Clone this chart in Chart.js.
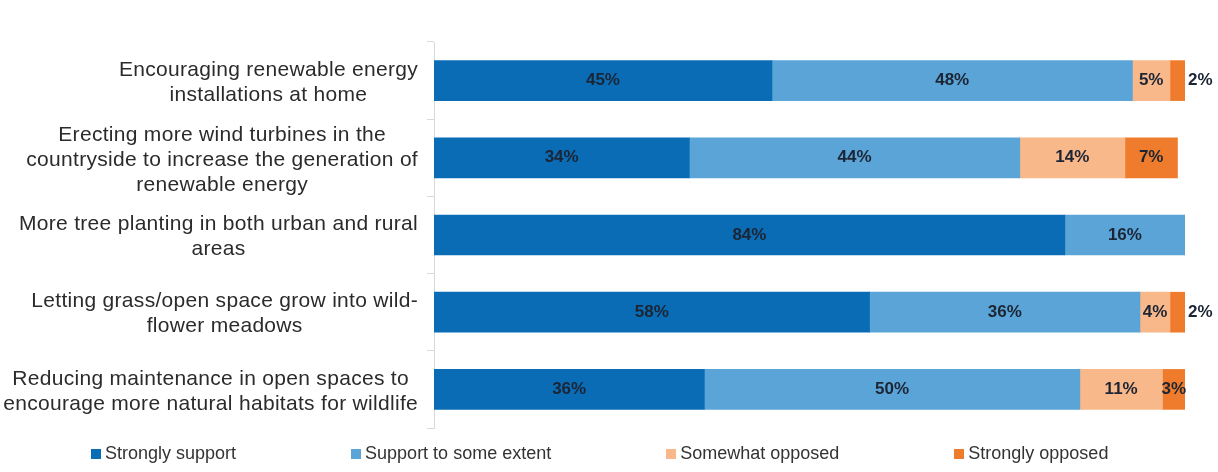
<!DOCTYPE html>
<html lang="en">
<head>
    <meta charset="UTF-8">
    <title>Support for nature and energy measures</title>
    <script src="https://cdn.jsdelivr.net/npm/chart.js"></script>
    <style>
        body {
            margin: 0;
            padding: 0;
            background: #fff;
            font-family: "Liberation Sans", Arial, sans-serif;
        }
        #wrap {
            position: relative;
            width: 1218px;
            height: 472px;
        }
        #legend {
            position: absolute;
            left: 91px;
            top: 443px;
            display: flex;
            align-items: center;
            font-size: 18px;
            color: #333;
            white-space: nowrap;
        }
        .item {
            display: flex;
            align-items: center;
            flex-shrink: 0;
            margin-right: 115px;
        }
        .box {
            width: 10px;
            height: 10px;
            margin-right: 4px;
        }
    </style>
</head>
<body>
    <div id="wrap">
        <canvas id="chart" width="1218" height="472"></canvas>
        <div id="legend"></div>
    </div>

    <script>
        const categories = [
            ['Encouraging renewable energy', 'installations at home'],
            ['Erecting more wind turbines in the', 'countryside to increase the generation of', 'renewable energy'],
            ['More tree planting in both urban and rural', 'areas'],
            ['Letting grass/open space grow into wild-', 'flower meadows'],
            ['Reducing maintenance in open spaces to', 'encourage more natural habitats for wildlife']
        ];
        const seriesNames = ['Strongly support', 'Support to some extent', 'Somewhat opposed', 'Strongly opposed'];
        const stronglySupport = [45, 34, 84, 58, 36];
        const supportSome = [48, 44, 16, 36, 50];
        const somewhatOpposed = [5, 14, 0, 4, 11];
        const stronglyOpposed = [2, 7, 0, 2, 3];
        const colors = ['#0b6cb6', '#5ba4d8', '#f8b88a', '#ef7c2c'];

        const allSeries = [stronglySupport, supportSome, somewhatOpposed, stronglyOpposed];

        // category labels: block right aligned, lines centred inside the block
        const yLabelPlugin = {
            id: 'yLabels',
            afterDraw(chart) {
                const ctx = chart.ctx;
                const y = chart.scales.y;
                ctx.save();
                ctx.font = '21px "Liberation Sans", Arial, sans-serif';
                ctx.letterSpacing = '0.3px';
                ctx.fillStyle = '#2b2b2b';
                ctx.textAlign = 'center';
                ctx.textBaseline = 'middle';
                const lh = 25;
                categories.forEach((lines, i) => {
                    const widest = Math.max(...lines.map(l => ctx.measureText(l).width));
                    const cx = 418 - widest / 2;
                    const cy = y.getPixelForValue(i) + 2;
                    const top = cy - (lines.length - 1) * lh / 2;
                    lines.forEach((l, k) => ctx.fillText(l, cx, top + k * lh));
                });
                ctx.restore();
            }
        };

        const valueLabelPlugin = {
            id: 'valueLabels',
            afterDatasetsDraw(chart) {
                const ctx = chart.ctx;
                ctx.save();
                ctx.font = 'bold 17px "Liberation Sans", Arial, sans-serif';
                ctx.fillStyle = '#1c2534';
                ctx.textBaseline = 'middle';
                chart.data.datasets.forEach((ds, d) => {
                    chart.getDatasetMeta(d).data.forEach((bar, i) => {
                        const v = ds.data[i];
                        if (!v) return;
                        const txt = v + '%';
                        if (v < 3) {
                            ctx.textAlign = 'left';
                            ctx.fillText(txt, bar.x + 3, bar.y);
                        } else {
                            ctx.textAlign = 'center';
                            ctx.fillText(txt, (bar.x + bar.base) / 2, bar.y);
                        }
                    });
                });
                ctx.restore();
            }
        };

        new Chart(document.getElementById('chart'), {
            type: 'bar',
            data: {
                labels: categories.map(c => c.join(' ')),
                datasets: seriesNames.map((name, i) => ({
                    label: name,
                    data: allSeries[i],
                    backgroundColor: colors[i],
                    borderWidth: 0,
                    barThickness: 40
                }))
            },
            options: {
                indexAxis: 'y',
                responsive: false,
                animation: false,
                layout: { padding: { top: 42, right: 33, bottom: 44, left: 0 } },
                plugins: {
                    legend: { display: false },
                    tooltip: { enabled: false }
                },
                scales: {
                    x: {
                        stacked: true,
                        min: 0,
                        max: 100,
                        display: false
                    },
                    y: {
                        stacked: true,
                        ticks: { display: false },
                        grid: {
                            drawOnChartArea: false,
                            tickLength: 7,
                            color: '#d9d9d9',
                            offset: true
                        },
                        border: { color: '#d9d9d9' },
                        afterFit(scale) { scale.width = 434; }
                    }
                }
            },
            plugins: [yLabelPlugin, valueLabelPlugin]
        });

        const legend = document.getElementById('legend');
        seriesNames.forEach((name, i) => {
            const item = document.createElement('div');
            item.className = 'item';
            const box = document.createElement('span');
            box.className = 'box';
            box.style.background = colors[i];
            const label = document.createElement('span');
            label.textContent = name;
            item.appendChild(box);
            item.appendChild(label);
            legend.appendChild(item);
        });
    </script>
</body>
</html>
